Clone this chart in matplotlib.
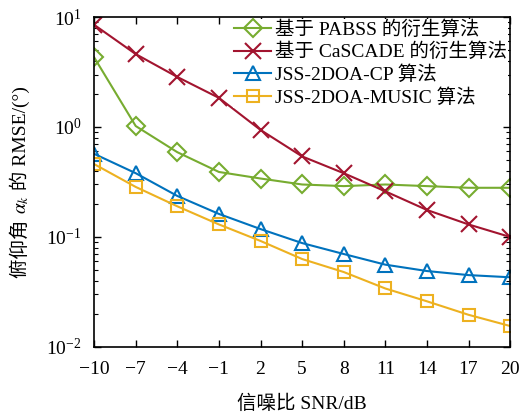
import numpy as np
import matplotlib
matplotlib.use('Agg')
import matplotlib.pyplot as plt
from matplotlib.ticker import LogLocator, NullFormatter

plt.rcParams['font.family'] = ['Liberation Serif', 'Noto Sans CJK SC']
plt.rcParams['mathtext.fontset'] = 'stix'

# SNR (dB) and RMSE values
snr = [-10, -7, -4, -1, 2, 5, 8, 11, 14, 17, 20]
rmse_pabss = [4.3, 1.02, 0.59, 0.39, 0.34, 0.30, 0.29, 0.30, 0.29, 0.28, 0.28]
rmse_cascade = [8.5, 4.6, 2.85, 1.84, 0.94, 0.54, 0.38, 0.26, 0.176, 0.13, 0.10]
rmse_cp = [0.57, 0.38, 0.236, 0.162, 0.118, 0.088, 0.070, 0.056, 0.049, 0.045, 0.043]
rmse_music = [0.46, 0.285, 0.19, 0.13, 0.092, 0.063, 0.048, 0.034, 0.026, 0.0196, 0.0155]
labels = ['基于 PABSS 的衍生算法', '基于 CaSCADE 的衍生算法',
          'JSS-2DOA-CP 算法', 'JSS-2DOA-MUSIC 算法']
ylabel_parts = ['俯仰角 ', r'$\alpha_k$', ' 的 RMSE/(°)']

fig = plt.figure(figsize=(5.2, 4.15), dpi=100)
ax = fig.add_axes([0.181, 0.164, 0.800, 0.795])

ax.semilogy(snr, rmse_pabss, '-D', color='#77AC30', lw=1.5, ms=9.5, mfc='none', mew=1.5, label=labels[0])
ax.semilogy(snr, rmse_cascade, '-x', color='#A2142F', lw=1.5, ms=11, mew=1.5, label=labels[1])
ax.semilogy(snr, rmse_cp, '-^', color='#0072BD', lw=1.5, ms=10, mfc='none', mew=1.5, label=labels[2])
ax.semilogy(snr, rmse_music, '-s', color='#EDB120', lw=1.5, ms=9, mfc='none', mew=1.5, label=labels[3])

ax.set_xlim(-10, 20)
ax.set_ylim(1e-2, 1e1)
ax.set_xticks(snr)
ax.set_xticklabels([str(s).replace('-', '\u2212') for s in snr])
ax.yaxis.set_major_locator(LogLocator(base=10, numticks=10))
ax.yaxis.set_minor_locator(LogLocator(base=10, subs=np.arange(2, 10), numticks=10))
ax.yaxis.set_minor_formatter(NullFormatter())
ax.tick_params(which='both', direction='in', top=True, right=True, labelsize=14)
ax.tick_params(which='major', length=5, width=1)
ax.tick_params(which='minor', length=3, width=0.8)
ax.tick_params(axis='x', pad=10)
ax.tick_params(axis='y', pad=9)
for s in ax.spines.values():
    s.set_linewidth(1.2)

ax.set_xlabel('信噪比 SNR/dB', fontsize=14, labelpad=12)

leg = ax.legend(loc='upper right', frameon=True, fontsize=14, handlelength=1.9,
                handletextpad=0.2, labelspacing=0.22, borderaxespad=0.1,
                borderpad=0.05, fancybox=False)
leg.get_frame().set_edgecolor('none')
leg.get_frame().set_facecolor('white')
leg.get_frame().set_alpha(1)

# y label built from pieces so the Chinese text and the math symbol both render
fig.canvas.draw()
renderer = fig.canvas.get_renderer()
texts = [fig.text(0, 0, p, fontsize=14, rotation=90, rotation_mode='anchor',
                  ha='left', va='baseline') for p in ylabel_parts]
heights = [t.get_window_extent(renderer).height for t in texts]
total = sum(heights)
fig_h = fig.bbox.height
y_center = (17 + 347) / 2.0
y = fig_h - y_center - total / 2.0
x = 26 / fig.bbox.width
for t, h in zip(texts, heights):
    t.set_position((x, y / fig_h))
    y += h

fig.savefig('out.png', dpi=100)
